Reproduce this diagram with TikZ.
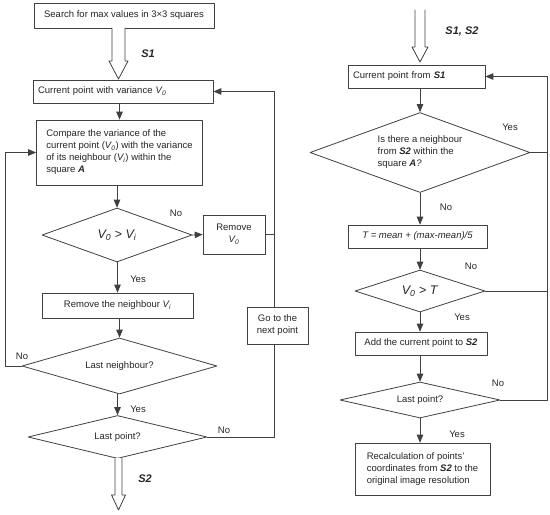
\documentclass[tikz,border=0pt]{standalone}
\usepackage{fontspec}
\setmainfont{Liberation Sans}
\usetikzlibrary{arrows,shapes.geometric}
\definecolor{lncol}{HTML}{404040}
\definecolor{txcol}{HTML}{262626}
\newcommand{\flowfont}{\fontsize{9.5}{12}\selectfont}
\newcommand{\vsub}[2]{\textit{#1\textsubscript{#2}}}
\newcommand{\bset}[1]{\textbf{\textit{#1}}}

\begin{document}
\begin{tikzpicture}[line cap=round,line join=round,>=triangle 45,x=1pt,y=-1pt,
	box/.style={draw=lncol,fill=white,line width=0.8pt,inner sep=5pt,align=center,font=\flowfont,text=txcol},
	decision/.style={diamond,draw=lncol,fill=white,line width=0.8pt,inner sep=0pt,align=center,font=\flowfont,text=txcol},
	lbl/.style={font=\flowfont,text=txcol},
	setlbl/.style={font=\fontsize{11}{13}\selectfont,text=txcol},
	hollow/.style={draw=lncol,fill=white,line width=0.8pt},
	link/.style={draw=lncol,line width=0.8pt}]
		\useasboundingbox (0,0) rectangle (550,515);
		% left column
		\node[box,minimum width=180,minimum height=25] (search) at (124,15.5) {Search for max values in 3×3 squares};
		\node[box,text width=170,align=left,minimum height=23] (curpt) at (123,91.5) {Current point with variance \vsub{V}{0}};
		\node[box,align=left,minimum width=166,minimum height=65] (compare) at (119.5,152.5) {Compare the variance of the\\current point (\vsub{V}{0}) with the variance\\of its neighbour (\vsub{V}{i}) within the\\square \bset{A}};
		\node[decision,aspect=2.78,minimum width=150,minimum height=54,font=\fontsize{12.5}{14}\selectfont] (gt) at (117,235) {\vsub{V}{0} > \vsub{V}{i}};
		\node[box,minimum width=62,minimum height=39] (removev) at (234,234.5) {Remove\\\vsub{V}{0}};
		\node[box,minimum width=151,minimum height=25] (remnb) at (117.5,305.5) {Remove the neighbour \vsub{V}{i}};
		\node[decision,aspect=3.5,minimum width=195,minimum height=56] (lastnb) at (119.5,366) {Last neighbour?};
		\node[decision,aspect=4.2,minimum width=179,minimum height=43] (lastpt) at (117.5,437) {Last point?};
		\node[box,minimum width=61,minimum height=37] (nextpt) at (277.5,325.5) {Go to the\\next point};
		\coordinate (lbus) at (274,0);
		\coordinate (lfar) at (5,0);
		% right column
		\node[box,text width=127,align=left,minimum height=23] (fromsone) at (416.5,76.5) {Current point from \bset{S1}};
		\node[decision,aspect=2.75,minimum width=220,minimum height=80,align=left] (isnb) at (420,152.5) {Is there a neighbour\\from \bset{S2} within the\\square \bset{A}\textit{?}};
		\node[box,minimum width=139,minimum height=23] (thr) at (417.5,236.5) {\textit{T = mean + (max-mean)/5}};
		\node[decision,aspect=3.1,minimum width=130,minimum height=42,font=\fontsize{12.5}{14}\selectfont] (gtt) at (420,291) {\vsub{V}{0} > \textit{T}};
		\node[box,minimum width=132,minimum height=23] (addpt) at (421,343.5) {Add the current point to \bset{S2}};
		\node[decision,aspect=4.4,minimum width=160,minimum height=36] (lastptr) at (420,400) {Last point?};
		\node[box,align=left,minimum width=135,minimum height=52] (recalc) at (422.5,469) {Recalculation of points'\\coordinates from \bset{S2} to the\\original image resolution};
		\coordinate (rbus) at (547,0);
		% hollow arrows
		\draw[hollow] (112,28) -- (112,61) -- (109,61) -- (118.5,79) -- (128,61) -- (125,61) -- (125,28);
		\draw[hollow] (115,458) -- (115,495) -- (111.5,495) -- (118.5,510) -- (125.5,495) -- (122,495) -- (122,458);
		\draw[hollow] (415,10) -- (415,47) -- (412,47) -- (420,62) -- (428,47) -- (425,47) -- (425,10);
		% connectors left
		\draw[link,->] (compare.north |- curpt.south) -- (compare.north);
		\draw[link,->] (gt.north |- compare.south) -- (gt.north);
		\draw[link,->] (gt.east) -- (removev.west);
		\draw[link] (removev.east) -- (removev.east -| lbus);
		\draw[link,->] (gt.south) -- (gt.south -| remnb.north) -- (remnb.north);
		\draw[link,->] (lastnb.north |- remnb.south) -- (lastnb.north);
		\draw[link,->] (lastnb.west) -- (lastnb.west -| lfar) |- (compare.west);
		\draw[link,->] (lastpt.north |- lastnb.south) -- (lastpt.north);
		\draw[link] (lastpt.east) -- (lastpt.east -| lbus) -- (nextpt.south -| lbus);
		\draw[link,->] (nextpt.north -| lbus) |- (curpt.east);
		% connectors right
		\draw[link,->] (isnb.north |- fromsone.south) -- (isnb.north);
		\draw[link] (isnb.east) -- (isnb.east -| rbus);
		\draw[link,->] (isnb.south) -- (isnb.south |- thr.north);
		\draw[link,->] (gtt.north |- thr.south) -- (gtt.north);
		\draw[link] (gtt.east) -- (gtt.east -| rbus);
		\draw[link,->] (gtt.south) -- (gtt.south |- addpt.north);
		\draw[link,->] (lastptr.north |- addpt.south) -- (lastptr.north);
		\draw[link,->] (lastptr.east) -- (lastptr.east -| rbus) |- (fromsone.east);
		\draw[link,->] (lastptr.south) -- (lastptr.south |- recalc.north);
		% labels
		\node[setlbl] (sone) at (148,54) {\bset{S1}};
		\node[setlbl] (stwo) at (145,479) {\bset{S2}};
		\node[setlbl] (sonetwo) at (462,32) {\bset{S1, S2}};
		\node[lbl] (nogt) at (176,213) {No};
		\node[lbl] (yesgt) at (138,279) {Yes};
		\node[lbl] (nonb) at (22,356) {No};
		\node[lbl] (yesnb) at (138,409) {Yes};
		\node[lbl] (nopt) at (224,430) {No};
		\node[lbl] (yesisnb) at (510,127) {Yes};
		\node[lbl] (noisnb) at (446,207) {No};
		\node[lbl] (nogtt) at (471,266) {No};
		\node[lbl] (yesgtt) at (462,317) {Yes};
		\node[lbl] (noptr) at (498,383) {No};
		\node[lbl] (yesptr) at (457,434) {Yes};
\end{tikzpicture}
\end{document}
